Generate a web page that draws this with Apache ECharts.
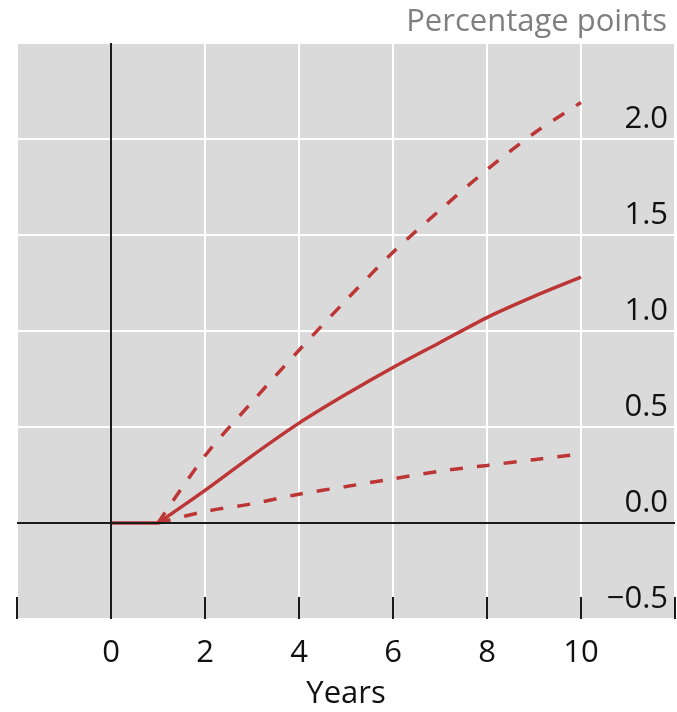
<!DOCTYPE html>
<html>
<head>
<meta charset="utf-8">
<script src="https://cdn.jsdelivr.net/npm/echarts@6/dist/echarts.min.js"></script>
<style>
  html, body { margin: 0; padding: 0; background: #ffffff; }
  #chart { width: 677px; height: 712px; }
</style>
</head>
<body>
<div id="chart"></div>
<script>
// Years after the shock
const years = [0, 1, 2, 3, 4, 5, 6, 7, 8, 9, 10];
// Central estimate and range, percentage points
const central = [0, 0, 0.17, 0.35, 0.52, 0.67, 0.81, 0.94, 1.07, 1.18, 1.28];
const upper = [null, 0, 0.35, 0.63, 0.90, 1.16, 1.41, 1.63, 1.84, 2.03, 2.19];
const lower = [null, 0, 0.06, 0.10, 0.15, 0.19, 0.23, 0.27, 0.30, 0.33, 0.36];

const xTickLabels = ['0', '2', '4', '6', '8', '10'];

const FONT = '"Open Sans", "Noto Sans", sans-serif';
const FS = 31;
const RED = '#bd3636';
const DASH = [13, 14];

const pairs = (ys) => years.map((x, i) => [x, ys[i]]);
// Response is flat until year 1, then rises along a smooth path
const flatPart = (ys) => pairs(ys).slice(0, 2);
const risingPart = (ys) => pairs(ys).slice(1);

const chart = echarts.init(document.getElementById('chart'), null, { renderer: 'canvas' });

chart.setOption({
  animation: false,
  backgroundColor: '#ffffff',
  title: {
    text: 'Percentage points',
    right: 5,
    top: 2,
    textStyle: { fontFamily: FONT, fontSize: FS, fontWeight: 'normal', color: '#7f7f7f' }
  },
  grid: {
    left: 17, right: 2, top: 43, bottom: 93,
    outerBoundsMode: 'none',
    containLabel: false,
    show: true, backgroundColor: '#dadada', borderWidth: 0
  },
  xAxis: {
    type: 'value',
    min: -2, max: 12, interval: 2,
    name: 'Years',
    nameLocation: 'middle',
    nameGap: 60,
    nameTextStyle: { fontFamily: FONT, fontSize: FS, color: '#111111' },
    axisLine: { show: false, onZero: false },
    axisTick: { show: true, inside: true, length: 22, lineStyle: { color: '#1a1a1a', width: 2 } },
    splitLine: { show: true, lineStyle: { color: '#ffffff', width: 2 } },
    axisLabel: {
      fontFamily: FONT, fontSize: FS, color: '#111111', margin: 19,
      formatter: (v) => (xTickLabels.indexOf(String(v)) >= 0 ? String(v) : '')
    }
  },
  yAxis: {
    type: 'value',
    position: 'right',
    min: -0.5, max: 2.5, interval: 0.5,
    axisLine: { show: false, onZero: false },
    axisTick: { show: false },
    splitLine: { show: true, lineStyle: { color: '#ffffff', width: 2 } },
    axisLabel: {
      inside: true,
      showMaxLabel: false,
      fontFamily: FONT, fontSize: FS, color: '#111111',
      margin: 7,
      verticalAlign: 'bottom',
      lineHeight: 40,
      formatter: (v) => v.toFixed(1).replace('-', '\u2212')
    }
  },
  series: [
    {
      name: 'Zero lines',
      type: 'line',
      data: [],
      silent: true,
      markLine: {
        silent: true,
        symbol: 'none',
        label: { show: false },
        lineStyle: { color: '#1a1a1a', width: 2, type: 'solid' },
        data: [{ xAxis: 0 }, { yAxis: 0 }]
      }
    },
    {
      name: 'Upper',
      type: 'line',
      data: risingPart(upper),
      showSymbol: false,
      smooth: 0.3,
      lineStyle: { color: RED, width: 3.5, type: DASH },
      z: 3
    },
    {
      name: 'Lower',
      type: 'line',
      data: risingPart(lower),
      showSymbol: false,
      smooth: 0.3,
      lineStyle: { color: RED, width: 3.5, type: DASH },
      z: 3
    },
    {
      name: 'Central (flat)',
      type: 'line',
      data: flatPart(central),
      showSymbol: false,
      lineStyle: { color: RED, width: 3.5 },
      z: 4
    },
    {
      name: 'Central',
      type: 'line',
      data: risingPart(central),
      showSymbol: false,
      smooth: 0.3,
      lineStyle: { color: RED, width: 3.5 },
      z: 4
    }
  ]
});
</script>
</body>
</html>
